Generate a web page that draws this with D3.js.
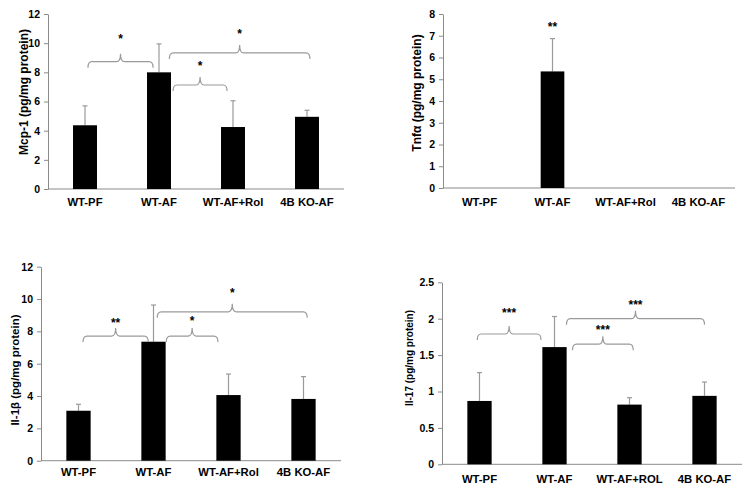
<!DOCTYPE html>
<html lang="en">
<head>
    <meta charset="UTF-8">
    <title>Cytokine levels</title>
    <script src="https://d3js.org/d3.v7.min.js"></script>
    <style>
        body { margin: 0; background: #fff; }
        svg { display: block; font-family: "Liberation Sans", Arial, sans-serif; }
        .tick text { font-size: 10.5px; font-weight: bold; fill: #000; }
        .tick line, .domain { stroke: #8a8a8a; }
        .cat { font-size: 11.3px; font-weight: bold; }
        .ylab { font-weight: bold; }
        .bracket { fill: none; stroke: #9a9a9a; stroke-width: 1.2px; }
        .err { stroke: #9a9a9a; stroke-width: 1.2px; }
        .sig { font-size: 12px; font-weight: bold; text-anchor: middle; }
    </style>
</head>
<body>
<svg id="chart" width="754" height="491"></svg>
<script>
    const categories = ["WT-PF", "WT-AF", "WT-AF+Rol", "4B KO-AF"];
    const categoriesIl17 = ["WT-PF", "WT-AF", "WT-AF+ROL", "4B KO-AF"];

    // means and upper error (SD)
    const mcp1Mean = [4.37, 8.0, 4.25, 4.95];
    const mcp1Sd = [1.33, 1.95, 1.8, 0.45];
    const tnfMean = [null, 5.36, null, null];
    const tnfSd = [null, 1.51, null, null];
    const il1bMean = [3.09, 7.36, 4.06, 3.82];
    const il1bSd = [0.40, 2.27, 1.30, 1.38];
    const il17Mean = [0.87, 1.61, 0.82, 0.94];
    const il17Sd = [0.39, 0.42, 0.095, 0.19];

    // significance brackets: ends in category units (0..4), y in value units
    const mcp1Brackets = [
        { x1: 0.54, x2: 1.42, y: 8.73, labelY: 10.0, label: "*" },
        { x1: 1.69, x2: 2.42, y: 7.13, labelY: 8.16, label: "*" },
        { x1: 1.64, x2: 3.54, y: 9.33, labelY: 10.38, label: "*" }
    ];
    const tnfBrackets = [
        { x1: null, x2: null, x: 1.5, labelY: 7.22, label: "**" }
    ];
    const il1bBrackets = [
        { x1: 0.56, x2: 1.43, y: 7.71, labelY: 8.29, label: "**" },
        { x1: 1.67, x2: 2.36, y: 7.71, labelY: 8.39, label: "*" },
        { x1: 1.55, x2: 3.55, y: 9.21, labelY: 10.14, label: "*" }
    ];
    const il17Brackets = [
        { x1: 0.47, x2: 1.32, y: 1.79, labelY: 2.02, label: "***" },
        { x1: 1.74, x2: 2.55, y: 1.65, labelY: 1.79, label: "***" },
        { x1: 1.66, x2: 3.5, y: 2.0, labelY: 2.14, label: "***" }
    ];

    const svg = d3.select("#chart");

    function drawPanel(p) {
        const g = svg.append("g");
        const x = d3.scaleBand().domain(p.cats).range(p.xr)
            .paddingInner(0.676).paddingOuter(0.338);
        const xc = d3.scaleLinear().domain([0, 4]).range(p.xr);
        const y = d3.scaleLinear().domain([0, p.max]).range(p.yr);

        // y axis
        g.append("g")
            .attr("transform", `translate(${p.xr[0]},0)`)
            .call(d3.axisLeft(y).tickValues(p.ticks).tickSize(4).tickPadding(4).tickSizeOuter(0)
                .tickFormat(d3.format("")));

        // x axis line
        g.append("line")
            .attr("class", "domain")
            .attr("x1", p.xr[0]).attr("x2", p.xr[1])
            .attr("y1", y(0)).attr("y2", y(0));

        const rows = p.cats.map((c, i) => ({ c: c, m: p.mean[i], sd: p.sd[i] }))
            .filter(d => d.m != null);

        g.selectAll(".err").data(rows).enter().append("line")
            .attr("class", "err")
            .attr("x1", d => x(d.c) + x.bandwidth() / 2)
            .attr("x2", d => x(d.c) + x.bandwidth() / 2)
            .attr("y1", d => y(d.m))
            .attr("y2", d => y(d.m + d.sd));
        g.selectAll(".cap").data(rows).enter().append("line")
            .attr("class", "err")
            .attr("x1", d => x(d.c) + x.bandwidth() / 2 - 2.5)
            .attr("x2", d => x(d.c) + x.bandwidth() / 2 + 2.5)
            .attr("y1", d => y(d.m + d.sd))
            .attr("y2", d => y(d.m + d.sd));

        g.selectAll(".bar").data(rows).enter().append("rect")
            .attr("x", d => x(d.c))
            .attr("width", x.bandwidth())
            .attr("y", d => y(d.m))
            .attr("height", d => y(0) - y(d.m))
            .attr("fill", "#000");

        // category labels
        g.selectAll(".cat").data(p.cats).enter().append("text")
            .attr("class", "cat")
            .attr("x", d => x(d) + x.bandwidth() / 2)
            .attr("y", p.catY)
            .attr("text-anchor", "middle")
            .text(d => d);

        // y label
        g.append("text")
            .attr("class", "ylab")
            .attr("transform", `translate(${p.labX},${p.labY}) rotate(-90)`)
            .attr("text-anchor", "middle")
            .style("font-size", p.labSize + "px")
            .text(p.label);

        // brackets
        p.brackets.forEach(b => {
            if (b.x1 != null) {
                const x1 = xc(b.x1), x2 = xc(b.x2), m = (x1 + x2) / 2, h = y(b.y);
                const path = d3.path();
                path.moveTo(x1, h + 6);
                path.quadraticCurveTo(x1, h, x1 + 4, h);
                path.lineTo(m - 4, h);
                path.quadraticCurveTo(m, h, m, h - 8);
                path.quadraticCurveTo(m, h, m + 4, h);
                path.lineTo(x2 - 4, h);
                path.quadraticCurveTo(x2, h, x2, h + 6);
                g.append("path").attr("class", "bracket").attr("d", path.toString());
                g.append("text").attr("class", "sig").attr("x", m).attr("y", y(b.labelY)).text(b.label);
            } else {
                g.append("text").attr("class", "sig").attr("x", xc(b.x)).attr("y", y(b.labelY)).text(b.label);
            }
        });
    }

    drawPanel({ cats: categories, mean: mcp1Mean, sd: mcp1Sd, brackets: mcp1Brackets,
        xr: [48, 344], yr: [189, 14], max: 12, ticks: d3.range(0, 13, 2),
        catY: 206, label: "Mcp-1 (pg/mg protein)", labX: 28, labY: 92, labSize: 12 });
    drawPanel({ cats: categories, mean: tnfMean, sd: tnfSd, brackets: tnfBrackets,
        xr: [443, 735], yr: [188, 14], max: 8, ticks: d3.range(0, 9, 1),
        catY: 206, label: "Tnfα (pg/mg protein)", labX: 421, labY: 93, labSize: 12 });
    drawPanel({ cats: categories, mean: il1bMean, sd: il1bSd, brackets: il1bBrackets,
        xr: [41, 341], yr: [460.7, 266.7], max: 12, ticks: d3.range(0, 13, 2),
        catY: 476, label: "Il-1β (pg/mg protein)", labX: 19, labY: 370, labSize: 11.5 });
    drawPanel({ cats: categoriesIl17, mean: il17Mean, sd: il17Sd, brackets: il17Brackets,
        xr: [442, 742], yr: [464.3, 282.3], max: 2.5, ticks: [0, 0.5, 1, 1.5, 2, 2.5],
        catY: 483, label: "Il-17 (pg/mg protein)", labX: 413, labY: 358, labSize: 10 });
</script>
</body>
</html>
